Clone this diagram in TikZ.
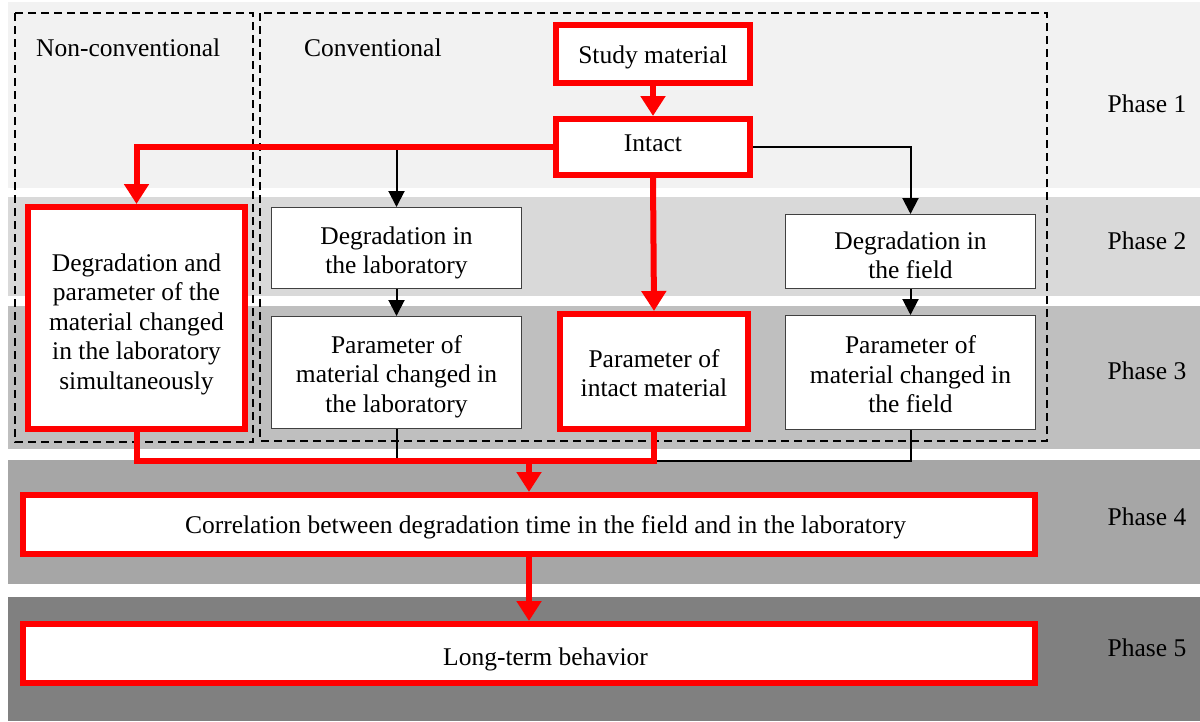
\documentclass[tikz,border=0pt]{standalone}
\usepackage{fontspec}
\setmainfont{Liberation Serif}
\usetikzlibrary{arrows.meta}
\definecolor{bandA}{HTML}{F2F2F2}
\definecolor{bandB}{HTML}{D9D9D9}
\definecolor{bandC}{HTML}{BFBFBF}
\definecolor{bandD}{HTML}{A6A6A6}
\definecolor{bandE}{HTML}{808080}
\definecolor{boxline}{HTML}{404040}
\tikzset{
  redbox/.style={draw=red, line width=6pt, fill=white, inner sep=0pt},
  blkbox/.style={draw=boxline, line width=1pt, fill=white, inner sep=0pt},
  txt/.style={align=center, inner sep=0pt},
  redarrow/.style={draw=red, line width=6pt, -{Triangle[length=20pt,width=24pt]}},
  redline/.style={draw=red, line width=6pt},
  blkarrow/.style={draw=black, line width=2pt, -{Triangle[length=16pt,width=16pt]}},
  blkline/.style={draw=black, line width=2pt},
  dashbox/.style={draw=black, line width=2pt, dash pattern=on 8pt off 5pt},
  phaselabel/.style={inner sep=0pt}
}
\begin{document}
\begin{tikzpicture}[x=1pt,y=-1pt,font=\fontsize{25.5}{29.5}\selectfont]
\useasboundingbox (0,0) rectangle (1200,721);
% phase bands
\fill[bandA] (8,2) rectangle (1200,188);
\fill[bandB] (8,197) rectangle (1200,296);
\fill[bandC] (8,306) rectangle (1200,449);
\fill[bandD] (8,460) rectangle (1200,584);
\fill[bandE] (8,597) rectangle (1200,721);
% dashed groups
\draw[dashbox] (15,13) rectangle (253,442);
\draw[dashbox] (260,13) rectangle (1047,441);
\node[anchor=base west, inner sep=0pt] (lnon) at (36,56) {Non-conventional};
\node[anchor=base west, inner sep=0pt] (lconv) at (304,56) {Conventional};
% phase labels
\node[phaselabel, anchor=base] (p1) at (1147,112) {Phase 1};
\node[phaselabel, anchor=base] (p2) at (1147,249) {Phase 2};
\node[phaselabel, anchor=base] (p3) at (1147,379) {Phase 3};
\node[phaselabel, anchor=base] (p4) at (1147,525) {Phase 4};
\node[phaselabel, anchor=base] (p5) at (1147,656) {Phase 5};
% nodes
\node[redbox, minimum width=194pt, minimum height=58pt,
  label={[txt, yshift=-3.5pt]center:Study material}] (study) at (653,54) {};
\node[redbox, minimum width=194pt, minimum height=56pt,
  label={[txt, yshift=3.5pt]center:Intact}] (intact) at (653,147) {};
\node[redbox, minimum width=217pt, minimum height=222pt,
  label={[txt, yshift=-6pt]center:Degradation and\\parameter of the\\material changed\\in the laboratory\\simultaneously}] (degpar) at (136.5,318) {};
\node[blkbox, minimum width=250pt, minimum height=81pt,
  label={[txt, yshift=-5pt]center:Degradation in\\the laboratory}] (deglab) at (396.5,248) {};
\node[blkbox, minimum width=250pt, minimum height=112pt,
  label={[txt, yshift=-4pt]center:Parameter of\\material changed in\\the laboratory}] (parlab) at (396.5,372.5) {};
\node[redbox, minimum width=188pt, minimum height=115pt,
  label={[txt, yshift=-1.5pt]center:Parameter of\\intact material}] (parint) at (654,371.5) {};
\node[blkbox, minimum width=250pt, minimum height=74pt,
  label={[txt, yshift=-4pt]center:Degradation in\\the field}] (degfield) at (910.5,251.5) {};
\node[blkbox, minimum width=250pt, minimum height=114pt,
  label={[txt, yshift=-2pt]center:Parameter of\\material changed in\\the field}] (parfield) at (910.5,372.5) {};
\node[redbox, minimum width=1012pt, minimum height=59pt,
  label={[txt, xshift=16.5pt, yshift=-3pt]center:Correlation between degradation time in the field and in the laboratory}] (corr) at (529,524.5) {};
\node[redbox, minimum width=1012pt, minimum height=59pt,
  label={[txt, xshift=16.5pt, yshift=-6pt]center:Long-term behavior}] (long) at (529,653.5) {};
\coordinate (m) at (654,461);
% black connectors
\draw[blkarrow] (deglab.north |- intact.west) -- (deglab.north);
\draw[blkarrow] (intact.east) -| (degfield.north);
\draw[blkarrow] (deglab.south) -- (parlab.north);
\draw[blkarrow] (degfield.south) -- (parfield.north);
\draw[blkline] (parlab.south) -- (parlab.south |- m);
\draw[blkline] (parfield.south) |- (m);
% red connectors
\draw[redarrow] (study.south) -- (intact.north);
\draw[redarrow] (intact.west) -| (degpar.north);
\draw[redarrow] (intact.south) -- (parint.north);
\draw[redline] (degpar.south) |- (m) -- (parint.south);
\draw[redarrow] (corr.north |- m) -- (corr.north);
\draw[redarrow] (corr.south) -- (long.north);
\end{tikzpicture}
\end{document}
